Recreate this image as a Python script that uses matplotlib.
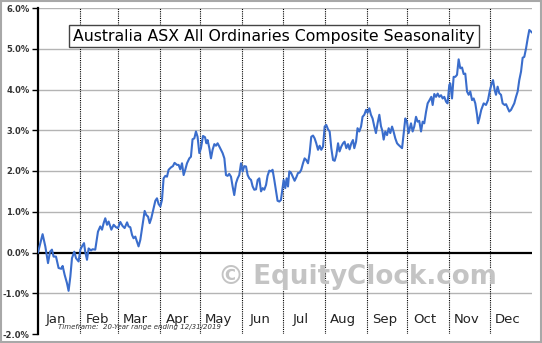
import matplotlib.pyplot as plt
from matplotlib.patches import Rectangle
import numpy as np

# day of year (0 = Jan 1) and average seasonal return in %
days = [
    0.0, 3.4, 5.4, 7.4, 8.9, 10.3, 11.5, 13.3, 15.2, 17.2, 18.2, 19.7, 21.4, 22.6,
    23.9, 25.1, 26.8, 28.1, 30.0, 31.3, 32.5, 34.0, 34.9, 36.2, 37.4, 39.2, 40.3,
    42.3, 44.3, 46.0, 47.3, 48.5, 49.7, 51.0, 52.2, 54.2, 55.9, 57.6, 59.1, 60.8,
    62.5, 64.0, 65.8, 66.9, 68.2, 69.5, 70.6, 71.9, 73.1, 74.3, 75.6, 77.3, 78.8,
    80.0, 81.3, 82.5, 83.7, 85.4, 86.7, 87.9, 89.1, 90.4, 91.6, 92.8, 94.1, 95.3,
    96.5, 98.3, 99.7, 100.9, 102.7, 103.9, 105.1, 106.4, 107.6, 108.8, 110.1,
    111.8, 113.0, 114.2, 115.5, 116.7, 117.9, 119.2, 120.4, 121.9, 123.4, 124.4,
    125.3, 126.6, 127.8, 129.0, 130.3, 131.5, 132.7, 134.0, 135.2, 136.4, 137.7,
    138.9, 140.1, 141.3, 142.6, 143.8, 145.0, 146.3, 147.5, 148.7, 150.0, 151.2,
    152.4, 153.7, 154.9, 156.1, 157.4, 158.6, 159.8, 161.1, 162.3, 163.5, 164.8,
    166.0, 167.2, 168.5, 169.6, 170.9, 172.2, 173.3, 174.6, 175.9, 177.0, 178.3,
    179.5, 181.5, 182.7, 183.7, 184.7, 185.7, 186.9, 188.4, 189.6, 190.9, 192.1,
    193.3, 194.5, 195.8, 197.0, 198.2, 199.5, 200.7, 201.9, 203.2, 204.4, 205.6,
    206.9, 208.1, 209.3, 210.6, 211.8, 213.0, 214.3, 215.5, 216.7, 218.0, 219.2,
    220.4, 221.7, 222.8, 224.1, 225.4, 226.5, 227.8, 229.1, 230.2, 231.5, 232.7,
    233.7, 235.0, 236.1, 237.4, 238.7, 239.8, 241.1, 242.4, 243.5, 244.8, 246.0,
    247.2, 248.5, 249.7, 250.9, 252.2, 253.4, 254.4, 255.4, 256.6, 257.9, 259.1,
    260.3, 261.6, 262.7, 264.0, 265.3, 266.4, 267.7, 269.0, 270.1, 271.4, 272.6,
    273.8, 275.6, 276.8, 278.0, 279.3, 280.5, 281.7, 283.0, 284.2, 285.4, 286.7,
    287.9, 289.3, 290.6, 291.6, 292.8, 294.1, 295.3, 296.5, 297.8, 299.0, 300.2,
    301.5, 302.6, 303.9, 304.6, 305.9, 307.1, 308.3, 309.6, 310.8, 312.0, 313.3,
    314.5, 315.7, 317.0, 318.2, 319.4, 320.7, 321.9, 323.1, 324.4, 325.1, 326.1,
    327.5, 329.3, 331.0, 332.5, 333.7, 334.9, 336.2, 337.4, 338.4, 339.6, 340.8,
    342.1, 343.3, 344.8, 345.8, 347.0, 348.2, 349.5, 350.7, 351.9, 353.2, 354.4,
    355.6, 356.9, 358.1, 359.3, 360.6, 361.8, 363.0, 365.0,
]
returns = [
    0.00, 0.45, 0.15, -0.26, 0.02, 0.07, -0.10, -0.10, -0.38, -0.40, -0.33, -0.55,
    -0.75, -0.94, -0.59, -0.14, 0.02, -0.14, -0.22, 0.07, 0.15, 0.23, 0.02, -0.18,
    0.10, 0.05, 0.08, 0.07, 0.51, 0.64, 0.56, 0.72, 0.84, 0.68, 0.76, 0.56, 0.68,
    0.62, 0.60, 0.75, 0.65, 0.60, 0.74, 0.64, 0.62, 0.43, 0.35, 0.39, 0.27, 0.15,
    0.31, 0.68, 1.02, 0.92, 0.88, 0.72, 0.84, 1.09, 1.27, 1.33, 1.19, 1.13, 1.29,
    1.82, 1.88, 1.86, 2.03, 2.09, 2.12, 2.20, 2.15, 2.15, 2.04, 2.19, 1.90, 2.03,
    2.19, 2.31, 2.35, 2.78, 2.80, 2.97, 2.84, 2.44, 2.56, 2.86, 2.83, 2.68, 2.76,
    2.56, 2.31, 2.52, 2.66, 2.62, 2.68, 2.60, 2.52, 2.44, 2.31, 1.90, 1.88, 1.93,
    1.86, 1.62, 1.41, 1.70, 1.82, 1.90, 2.19, 1.99, 2.12, 2.11, 1.90, 1.82, 1.78,
    1.62, 1.54, 1.55, 1.78, 1.82, 1.50, 1.58, 1.54, 1.66, 1.88, 2.01, 1.99, 2.03,
    1.78, 1.50, 1.27, 1.25, 1.29, 1.78, 1.58, 1.82, 1.62, 1.99, 1.96, 1.85, 1.76,
    1.85, 1.95, 1.96, 2.03, 2.19, 2.31, 2.27, 2.19, 2.44, 2.84, 2.87, 2.80, 2.68,
    2.52, 2.62, 2.52, 2.60, 3.09, 3.13, 3.02, 2.97, 2.56, 2.27, 2.25, 2.39, 2.68,
    2.48, 2.60, 2.68, 2.72, 2.56, 2.66, 2.53, 2.68, 2.76, 2.56, 2.72, 3.05, 2.97,
    3.09, 3.33, 3.38, 3.50, 3.43, 3.54, 3.38, 3.29, 3.09, 2.93, 3.17, 3.38, 3.10,
    2.99, 2.77, 2.97, 2.88, 3.05, 2.93, 3.09, 2.97, 2.80, 2.68, 2.64, 2.60, 2.56,
    2.90, 3.29, 3.21, 2.93, 3.17, 2.97, 3.09, 3.33, 3.21, 3.23, 2.97, 3.21, 3.17,
    3.45, 3.66, 3.74, 3.82, 3.62, 3.89, 3.82, 3.90, 3.82, 3.86, 3.78, 3.82, 3.70,
    3.66, 4.11, 4.15, 3.78, 4.31, 4.31, 4.36, 4.74, 4.52, 4.54, 4.38, 4.39, 3.95,
    3.87, 3.95, 3.74, 3.78, 3.66, 3.38, 3.17, 3.29, 3.50, 3.66, 3.62, 3.74, 3.95,
    4.11, 4.23, 3.99, 3.87, 4.07, 3.91, 3.87, 3.66, 3.62, 3.64, 3.55, 3.46, 3.50,
    3.58, 3.66, 3.82, 3.95, 4.23, 4.44, 4.78, 4.80, 5.01, 5.25, 5.46, 5.40,
]

months = ["Jan", "Feb", "Mar", "Apr", "May", "Jun",
          "Jul", "Aug", "Sep", "Oct", "Nov", "Dec"]
month_starts = [0, 31, 59, 90, 120, 151, 181, 212, 243, 273, 304, 334]
y_ticks = [-2, -1, 0, 1, 2, 3, 4, 5, 6]

fig = plt.figure(figsize=(5.42, 3.43), dpi=100)
fig.patch.set_facecolor("white")
ax = fig.add_axes([38 / 542, 9 / 343, 494 / 542, 326 / 343])
ax.set_xlim(0, 365)
ax.set_ylim(-2, 6)

# horizontal grid, zero line, month separators
for t in y_ticks:
    if t == 0:
        ax.axhline(t, color="black", lw=1.6, zorder=3)
    elif t > -2:
        ax.axhline(t, color="#b4b4b4", lw=1.0, zorder=1)
for m in month_starts[1:]:
    ax.axvline(m, color="black", lw=0.8, ls=(0, (1, 1)), zorder=1)

ax.plot(days, returns, color="#3a6dcc", lw=1.5, zorder=4)

# axes styling
for s in ["top", "right", "bottom"]:
    ax.spines[s].set_visible(False)
ax.spines["left"].set_linewidth(1.6)
ax.set_yticks(y_ticks)
ax.set_yticklabels([f"{t:.1f}%" for t in y_ticks], fontsize=6,
                   fontweight="bold", color="#333333")
ax.tick_params(axis="y", length=4, width=1, pad=2)
ax.set_xticks([])

for name, start in zip(months, month_starts):
    ax.text(start + 13, -1.64, name, ha="center", va="center",
            fontsize=9.5, color="#222222")

ax.text(0.478, 0.914, "Australia ASX All Ordinaries Composite Seasonality",
        transform=ax.transAxes, ha="center", va="center", fontsize=11.3,
        color="black", zorder=6,
        bbox=dict(boxstyle="square,pad=0.25", facecolor="white",
                  edgecolor="#444444", lw=1))

ax.text(0.647, 0.175, "\u00a9 EquityClock.com", transform=ax.transAxes,
        ha="center", va="center", fontsize=18.8, fontweight="bold",
        color="#c4c4c4", zorder=2)

ax.text(20 / 494, 0.02, "Timeframe:  20-Year range ending 12/31/2019",
        transform=ax.transAxes, ha="left", va="center", fontsize=5,
        style="italic", color="#333333")

fig.patches.append(Rectangle((0.001, 0.002), 0.997, 0.995, transform=fig.transFigure,
                             fill=False, edgecolor="#a8a8a8", lw=1.5))

fig.savefig("out.png", dpi=100)
